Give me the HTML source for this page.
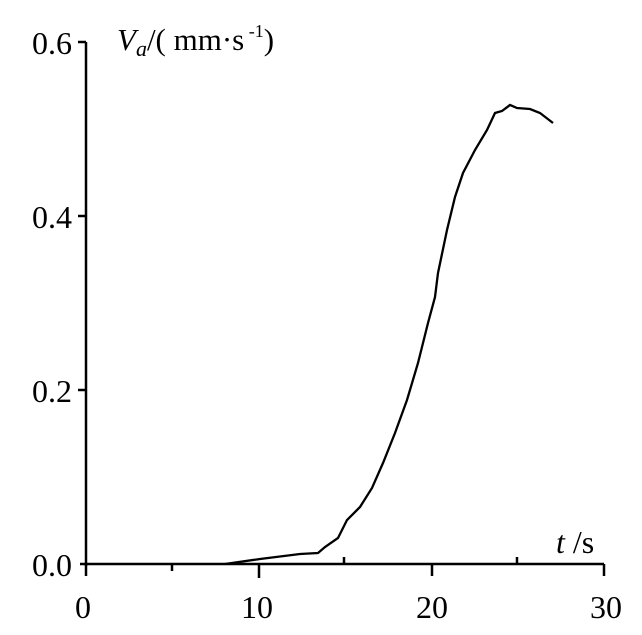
<!DOCTYPE html>
<html><head><style>body{margin:0;background:#fff}</style></head><body>
<svg width="642" height="630" xmlns="http://www.w3.org/2000/svg" font-family="Liberation Serif, serif">
<rect width="642" height="630" fill="#fff"/>
<g stroke="#000" stroke-width="2.5" fill="none">
<line x1="86" y1="42" x2="86" y2="566"/>
<line x1="78" y1="42" x2="86" y2="42"/>
<line x1="78" y1="216" x2="86" y2="216"/>
<line x1="78" y1="390" x2="86" y2="390"/>
<line x1="80" y1="564" x2="604" y2="564"/>
<line x1="86" y1="564" x2="86" y2="576"/>
<line x1="259" y1="564" x2="259" y2="578"/>
<line x1="432" y1="564" x2="432" y2="576"/>
<line x1="604" y1="564" x2="604" y2="576"/>
<line x1="172" y1="564" x2="172" y2="571"/>
<line x1="344" y1="564" x2="344" y2="557"/>
<line x1="517" y1="564" x2="517" y2="557"/>
<polyline stroke-width="2.3" points="225,564 260,559 300,554 318,553 325,547 338,538 347,520 360,507 372,488 383,463 395,433 407,400 418,363 428,323 435,297 438,273 447,230 455,197 463,173 475,150 487,130 495,113 502,111 510,105 517,108 530,109 540,113 553,123"/>
</g>
<g font-size="32" fill="#000" text-anchor="end">
<text x="72" y="54">0.6</text>
<text x="72" y="228">0.4</text>
<text x="72" y="402">0.2</text>
<text x="72" y="576">0.0</text>
</g>
<g font-size="32" fill="#000" text-anchor="middle">
<text x="83" y="618">0</text>
<text x="257" y="618">10</text>
<text x="432" y="618">20</text>
<text x="606" y="618">30</text>
</g>
<text x="117" y="50" font-size="31" fill="#000"><tspan font-style="italic">V</tspan><tspan font-style="italic" font-size="22" dy="6">a</tspan><tspan dy="-6">/(</tspan><tspan> mm·s</tspan><tspan font-size="18" dy="-13"> -1</tspan><tspan dy="13">)</tspan></text>
<text x="556" y="553" font-size="32" fill="#000"><tspan font-style="italic">t</tspan> /s</text>
</svg>
</body></html>
